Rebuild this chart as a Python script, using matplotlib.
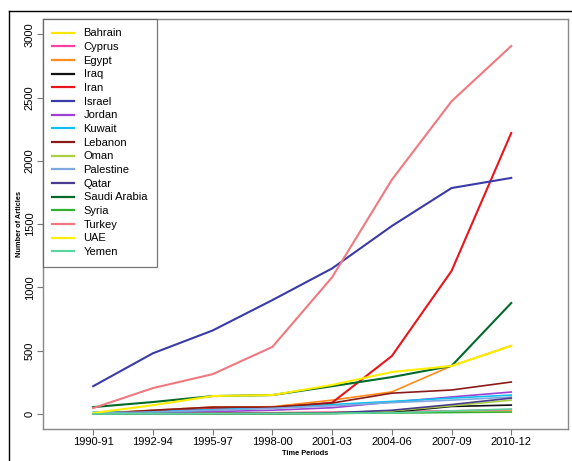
import numpy as np
import matplotlib
matplotlib.use("Agg")
import matplotlib.pyplot as plt
from matplotlib.lines import Line2D

plt.rcParams['font.family'] = ['Liberation Sans', 'DejaVu Sans']

periods = ["1990-91", "1992-94", "1995-97", "1998-00", "2001-03", "2004-06", "2007-09", "2010-12"]

bahrain = [3, 5, 8, 10, 12, 18, 22, 30]
cyprus = [2, 5, 8, 10, 15, 20, 25, 35]
egypt = [5, 30, 55, 58, 110, 175, 380, 540]
iraq = [3, 5, 3, 3, 5, 15, 60, 71]
iran = [5, 20, 40, 50, 90, 458, 1130, 2220]
israel = [220, 480, 660, 900, 1150, 1485, 1785, 1865]
jordan = [5, 10, 20, 30, 50, 95, 135, 174]
kuwait = [15, 20, 35, 50, 75, 100, 126, 150]
lebanon = [0, 30, 55, 55, 87, 165, 190, 253]
oman = [1, 2, 3, 5, 10, 25, 65, 110]
palestine = [10, 15, 30, 45, 65, 90, 110, 134]
qatar = [0, 2, 3, 5, 10, 30, 75, 126]
saudi = [55, 95, 142, 150, 220, 292, 380, 877]
syria = [2, 3, 3, 3, 5, 8, 12, 16]
turkey = [47, 205, 315, 530, 1080, 1850, 2470, 2907]
uae = [8, 70, 142, 150, 230, 332, 380, 537]
yemen = [1, 2, 3, 4, 5, 10, 25, 40]

countries = ["Bahrain", "Cyprus", "Egypt", "Iraq", "Iran", "Israel", "Jordan", "Kuwait",
             "Lebanon", "Oman", "Palestine", "Qatar", "Saudi Arabia", "Syria", "Turkey",
             "UAE", "Yemen"]
series = [bahrain, cyprus, egypt, iraq, iran, israel, jordan, kuwait, lebanon, oman,
          palestine, qatar, saudi, syria, turkey, uae, yemen]
colors = ["#FFE600", "#FF3FA0", "#FF8C1A", "#111111", "#E8161C", "#3A3AA8", "#A040D0",
          "#10C0F0", "#8B1A1A", "#A8D040", "#7FA8E0", "#4A3A90", "#006A2A", "#30B030",
          "#F07880", "#FFEE00", "#5CD4A0"]

fig = plt.figure(figsize=(5.72, 4.61), dpi=100)
W, H = 572, 461
ax = fig.add_axes([43 / W, 1 - 429 / H, (568 - 43) / W, (429 - 19) / H])

x = np.arange(len(periods))
for name, vals, c in zip(countries, series, colors):
    lw = 1.5 if name in ("Israel", "Turkey", "Iran", "Saudi Arabia", "UAE") else 1.2
    ax.plot(x, vals, color=c, lw=lw, label=name)

ax.set_xlim(-0.84, 7.95)
ax.set_ylim(-118, 3120)
ax.set_xticks(x)
ax.set_xticklabels(periods, fontsize=8)
ax.set_yticks([0, 500, 1000, 1500, 2000, 2500, 3000])
ax.set_yticklabels(["0", "500", "1000", "1500", "2000", "2500", "3000"], fontsize=8,
                   rotation=90, va="center")
ax.tick_params(length=4, color="#777777", width=0.8, pad=2)
for s in ax.spines.values():
    s.set_color("#888888")
    s.set_linewidth(1.0)

ax.set_xlabel("Time Periods", fontsize=5.3, fontweight="bold", labelpad=2)
ax.set_ylabel("Number of Articles", fontsize=5.3, fontweight="bold", labelpad=1)

leg = ax.legend(loc="upper left", bbox_to_anchor=(0, 1), fontsize=8, frameon=True,
                fancybox=False, borderaxespad=0, handlelength=1.9, handletextpad=0.9,
                labelspacing=0.33, borderpad=0.85)
leg.get_frame().set_edgecolor("#555555")
leg.get_frame().set_linewidth(0.9)
for h in leg.get_lines():
    h.set_linewidth(1.6)

# outer frame (left and top edges)
fig.add_artist(Line2D([9 / W, 9 / W], [0, 1 - 11 / H], color="black", lw=1.0,
                      transform=fig.transFigure))
fig.add_artist(Line2D([9 / W, 1], [1 - 11 / H, 1 - 11 / H], color="black", lw=1.0,
                      transform=fig.transFigure))

fig.savefig("out.png", dpi=100)
